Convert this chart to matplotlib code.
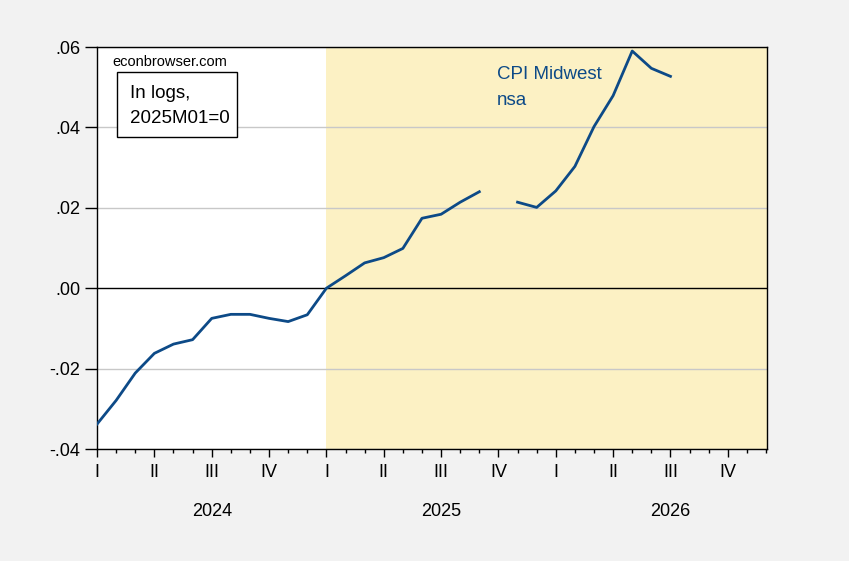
import numpy as np
import matplotlib
matplotlib.use('Agg')
import matplotlib.pyplot as plt
import matplotlib.transforms as mtransforms
from matplotlib.patches import Rectangle
from matplotlib.ticker import FixedLocator, FuncFormatter

plt.rcParams['font.family'] = ['Liberation Sans', 'DejaVu Sans']

# CPI Midwest, nsa, log difference from 2025M01, monthly from 2024M01
cpi_midwest = [
    -0.0338, -0.0279, -0.0211, -0.0162, -0.0139, -0.0128,
    -0.0075, -0.0065, -0.0065, -0.0075, -0.0083, -0.0066,
    0.0000, 0.0031, 0.0063, 0.0076, 0.0099, 0.0174,
    0.0184, 0.0214, 0.0240, np.nan, 0.0214, 0.0201,
    0.0242, 0.0303, 0.0402, 0.0479, 0.0590, 0.0547,
    0.0527,
]
years = [2024, 2025, 2026]
quarter_labels = ['I', 'II', 'III', 'IV']
y_ticks = [-0.04, -0.02, 0.00, 0.02, 0.04, 0.06]

line_color = '#0d4a87'
shade_color = '#fcf1c4'
bg_color = '#f2f2f2'

months = np.arange(len(cpi_midwest))
n_months = 12 * len(years)
shade_start = 12  # 2025M01

fig = plt.figure(figsize=(8.49, 5.61), dpi=100, facecolor=bg_color)
ax = fig.add_axes([0.1143, 0.1996, 0.7891, 0.7166])
ax.set_facecolor('white')

ax.axvspan(shade_start, n_months - 0.95, color=shade_color, lw=0, zorder=0)
for v in y_ticks:
    if v != 0:
        ax.axhline(v, color='#c8c8c8', lw=1, zorder=1)
ax.axhline(0, color='black', lw=1, zorder=2)

ax.plot(months, cpi_midwest, color=line_color, lw=2, zorder=3)

ax.set_xlim(0, n_months - 0.95)
ax.set_ylim(-0.04, 0.06)

ax.yaxis.set_major_locator(FixedLocator(y_ticks))
ax.yaxis.set_major_formatter(FuncFormatter(
    lambda v, p: ('-' if v < -1e-9 else '') + f'{abs(v):.2f}'[1:]))
ax.tick_params(axis='y', direction='out', length=9, width=1, labelsize=13, pad=3)

quarter_pos = list(range(0, n_months, 3))
ax.set_xticks(quarter_pos)
ax.set_xticklabels([quarter_labels[(m // 3) % 4] for m in quarter_pos])
ax.set_xticks(list(range(n_months)), minor=True)
ax.tick_params(axis='x', which='major', direction='out', length=6, width=1, labelsize=13, pad=5)
ax.tick_params(axis='x', which='minor', direction='out', length=3, width=1)

for s in ax.spines.values():
    s.set_color('black')
    s.set_linewidth(1)

trans = mtransforms.blended_transform_factory(ax.transData, fig.transFigure)
for i, yr in enumerate(years):
    fig.text(12 * i + 6, 1 - 511 / 561, str(yr), transform=trans,
             ha='center', va='center', fontsize=13)

ax.text(0.0234, 0.953, 'econbrowser.com', transform=ax.transAxes,
        fontsize=10.5, ha='left', va='baseline')

# note box
ax.add_patch(Rectangle((0.0299, 0.776), 0.179, 0.162, transform=ax.transAxes,
                       fc='white', ec='black', lw=1, zorder=4))
ax.text(0.0493, 0.872, 'In logs,', transform=ax.transAxes,
        fontsize=13.5, ha='left', va='baseline', zorder=5)
ax.text(0.0493, 0.810, '2025M01=0', transform=ax.transAxes,
        fontsize=13.5, ha='left', va='baseline', zorder=5)

ax.text(0.597, 0.920, 'CPI Midwest', transform=ax.transAxes,
        fontsize=13.5, ha='left', va='baseline', color=line_color)
ax.text(0.597, 0.856, 'nsa', transform=ax.transAxes,
        fontsize=13.5, ha='left', va='baseline', color=line_color)

fig.savefig('out.png', dpi=100, facecolor=bg_color)
